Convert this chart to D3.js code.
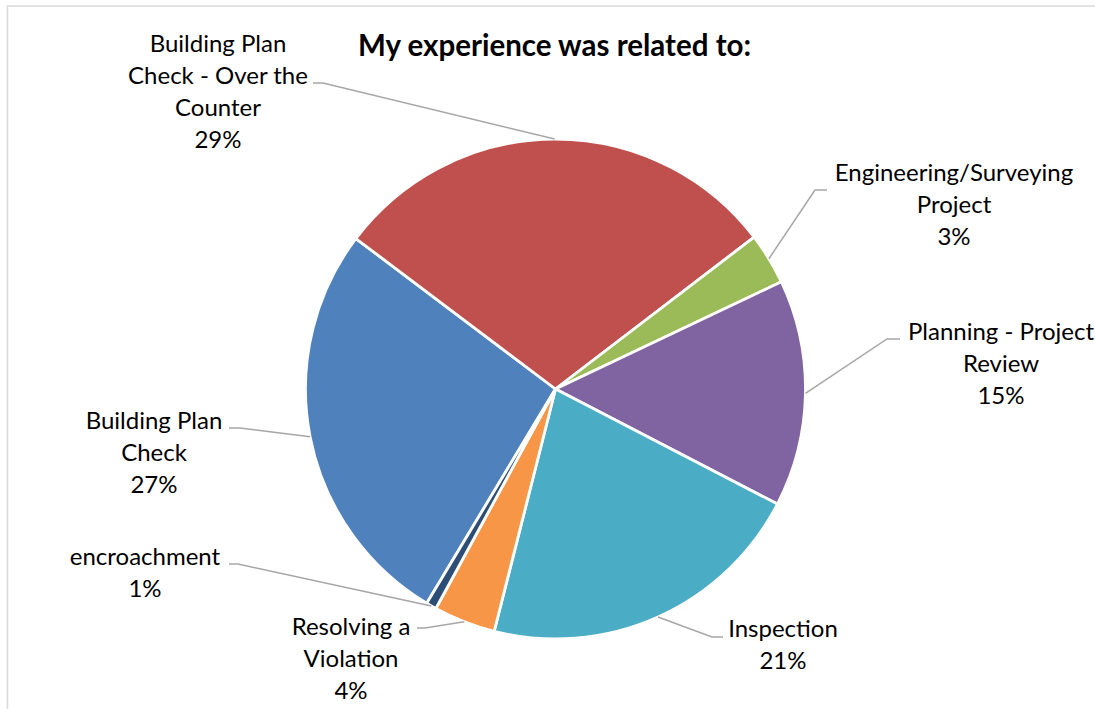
<!DOCTYPE html>
<html>
<head>
<meta charset="utf-8">
<script src="https://cdn.jsdelivr.net/npm/d3@7"></script>
<style>
  html, body { margin: 0; padding: 0; background: #ffffff; }
  svg { display: block; }
  text { font-family: Lato, "Liberation Sans", sans-serif; fill: #000; }
</style>
</head>
<body>
<svg id="chart" width="1095" height="709"></svg>
<script>
// Survey responses, in series order
const categories = [
  "Building Plan Check",
  "Building Plan Check - Over the Counter",
  "Engineering/Surveying Project",
  "Planning - Project Review",
  "Inspection",
  "Resolving a Violation",
  "encroachment"
];
const counts = [40, 44, 5, 22, 32, 6, 1];
const sliceColors = ["#4F81BD", "#C0504D", "#9BBB59", "#8064A2", "#4BACC6", "#F79646", "#2C4D75"];
// Category names as wrapped in the data labels
const labelLines = [
  ["Building Plan", "Check"],
  ["Building Plan", "Check - Over the", "Counter"],
  ["Engineering/Surveying", "Project"],
  ["Planning - Project", "Review"],
  ["Inspection"],
  ["Resolving a", "Violation"],
  ["encroachment"]
];
const titleText = "My experience was related to:";

// Label placement: text centre x, first baseline y, leader elbow (x from, x to, y)
const labelLayout = [
  { x: 154,  y: 429, lx0: 229, lx1: 240, ly: 428 },
  { x: 218,  y: 52,  lx0: 313, lx1: 323, ly: 83 },
  { x: 954,  y: 181, lx0: 827, lx1: 815, ly: 190 },
  { x: 1001, y: 340, lx0: 900, lx1: 887, ly: 339 },
  { x: 783,  y: 637, lx0: 723, lx1: 712, ly: 637 },
  { x: 351,  y: 635, lx0: 417, lx1: 425, ly: 628 },
  { x: 145,  y: 565, lx0: 229, lx1: 238, ly: 564 }
];

const svg = d3.select("#chart");
const cx = 555.5, cy = 389, radius = 250;
const lineH = 32;
const labelSize = 24;

// chart area frame
svg.append("rect")
  .attr("x", 7.5).attr("y", 6)
  .attr("width", 1200).attr("height", 800)
  .attr("fill", "none").attr("stroke", "#d9d9d9").attr("stroke-width", 1.5);

svg.append("text")
  .attr("x", 554.5).attr("y", 56)
  .attr("text-anchor", "middle")
  .attr("font-size", 29.5).attr("font-weight", "bold")
  .text(titleText);

const data = categories.map((c, i) => ({ name: c, value: counts[i], i }));
const total = d3.sum(counts);
const fmtPct = d3.format(".0%");

const firstAngle = 211 * Math.PI / 180;
const pie = d3.pie().value(d => d.value).sort(null)
  .startAngle(firstAngle).endAngle(firstAngle + 2 * Math.PI);
const arcs = pie(data);

const arc = d3.arc().innerRadius(0).outerRadius(radius);

const g = svg.append("g").attr("transform", `translate(${cx},${cy})`);
g.selectAll("path.slice")
  .data(arcs)
  .join("path")
  .attr("class", "slice")
  .attr("d", arc)
  .attr("fill", d => sliceColors[d.data.i])
  .attr("stroke", "#ffffff")
  .attr("stroke-width", 2.8)
  .attr("stroke-linejoin", "round");

// leader lines: elbow next to the label, then to the outer midpoint of the slice
arcs.forEach(a => {
  const L = labelLayout[a.data.i];
  const mid = (a.startAngle + a.endAngle) / 2;
  const ex = cx + radius * Math.sin(mid);
  const ey = cy - radius * Math.cos(mid);
  svg.append("polyline")
    .attr("points", `${L.lx0},${L.ly} ${L.lx1},${L.ly} ${ex},${ey}`)
    .attr("fill", "none")
    .attr("stroke", "#a6a6a6")
    .attr("stroke-width", 1.5);
});

// data labels: category name and share of total
arcs.forEach(a => {
  const L = labelLayout[a.data.i];
  const lines = labelLines[a.data.i].concat([fmtPct(a.data.value / total)]);
  const t = svg.append("text")
    .attr("text-anchor", "middle")
    .attr("font-size", labelSize);
  lines.forEach((s, k) => {
    t.append("tspan").attr("x", L.x).attr("y", L.y + k * lineH).text(s);
  });
});
</script>
</body>
</html>
